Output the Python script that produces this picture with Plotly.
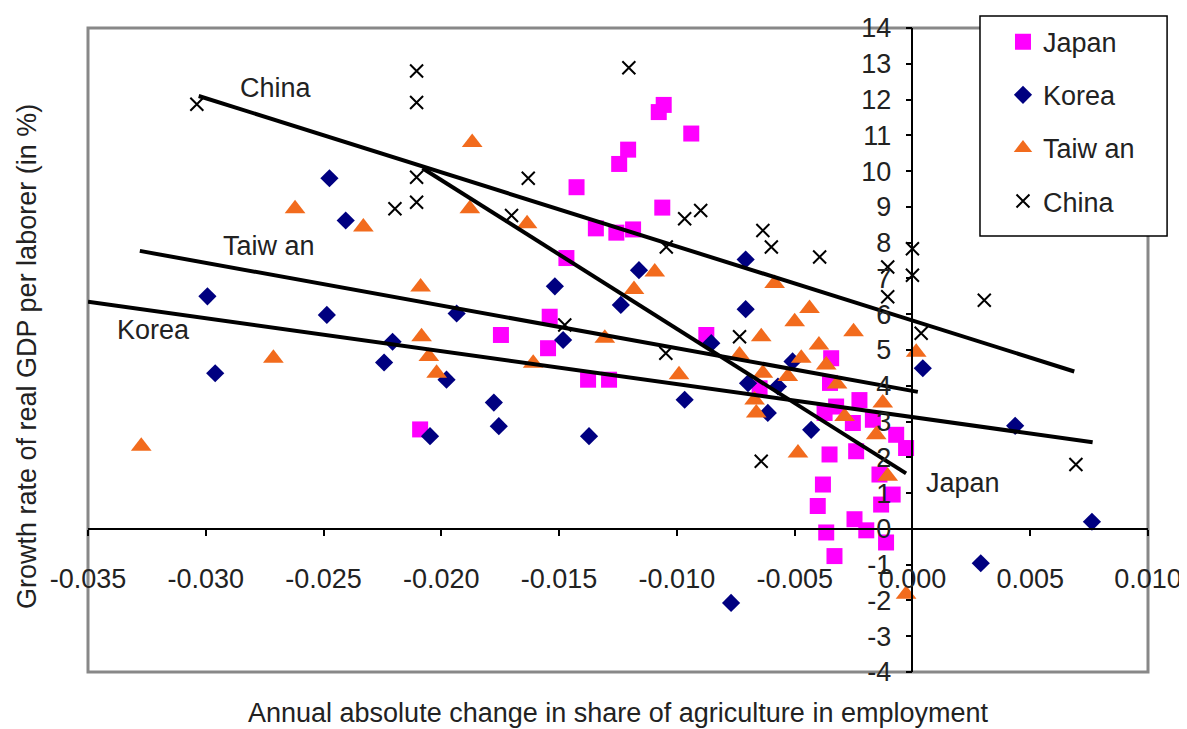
import plotly.graph_objects as go

# ---------------- data ----------------
japan_x = [-0.0209, -0.01056, -0.01077, -0.00939, -0.01207, -0.01245, -0.01426, -0.01062,
           -0.01344, -0.01257, -0.01186, -0.01469, -0.0154, -0.01747, -0.01547, -0.01377,
           -0.01288, -0.00875, -0.00649, -0.00345, -0.0035, -0.00225, -0.00324, -0.00253,
           -0.00373, -0.00168, -0.00069, -0.00027, -0.00352, -0.00239, -0.0014, -0.00084,
           -0.0038, -0.00402, -0.00133, -0.00246, -0.00196, -0.00366, -0.00112, -0.00331]
japan_y = [2.78, 11.85, 11.65, 11.05, 10.6, 10.2, 9.55, 8.98,
           8.4, 8.28, 8.37, 7.57, 5.93, 5.42, 5.05, 4.17,
           4.17, 5.42, 3.93, 4.77, 4.08, 3.6, 3.42, 2.96,
           3.24, 3.05, 2.63, 2.26, 2.08, 2.17, 1.52, 0.96,
           1.24, 0.64, 0.68, 0.27, -0.04, -0.1, -0.38, -0.76]

korea_x = [-0.02475, -0.02406, -0.02993, -0.02486, -0.02207, -0.02243, -0.01978, -0.0296,
           -0.02048, -0.00708, -0.01161, -0.01518, -0.01238, -0.01935, -0.01483, -0.01777,
           -0.01756, -0.01373, -0.00967, -0.00854, -0.00708, -0.00698, -0.00571, -0.00614,
           -0.00509, -0.0043, 0.00044, 0.00436, 0.00762, -0.0077, 0.0029]
korea_y = [9.8, 8.62, 6.5, 5.98, 5.23, 4.65, 4.17, 4.35,
           2.59, 7.53, 7.23, 6.78, 6.26, 6.02, 5.28, 3.53,
           2.87, 2.59, 3.61, 5.19, 6.14, 4.07, 3.98, 3.24,
           4.68, 2.77, 4.49, 2.88, 0.2, -2.07, -0.96]

taiwan_x = [-0.02621, -0.02331, -0.02088, -0.02084, -0.02053, -0.0202, -0.02713, -0.03274,
            -0.01869, -0.01879, -0.01636, -0.00585, -0.01094, -0.01182, -0.01306, -0.0161,
            -0.00991, -0.00642, -0.00734, -0.005, -0.00635, -0.00529, -0.00663, -0.0067,
            -0.00486, -0.00437, -0.0025, -0.00397, -0.00472, -0.00366, 0.00016, -0.00126,
            -0.00288, -0.00154, -0.00105, -0.0032, -0.00027]
taiwan_y = [8.95, 8.44, 6.76, 5.37, 4.82, 4.35, 4.77, 2.31,
            10.8, 8.95, 8.53, 6.86, 7.18, 6.69, 5.33, 4.63,
            4.31, 5.37, 4.86, 5.79, 4.35, 4.26, 3.24, 3.6,
            2.12, 6.16, 5.51, 5.14, 4.77, 4.58, 4.94, 3.52,
            3.14, 2.63, 1.47, 4.05, -1.83]

china_x = [-0.03038, -0.02105, -0.02105, -0.02105, -0.02197, -0.02105, -0.01204, -0.01631,
           -0.00899, -0.00967, -0.01702, -0.01045, -0.00635, -0.00599, -0.01476, -0.01047,
           -0.00734, -0.00642, -0.00394, 0.0, -0.00105, 0.0, -0.00105, 0.00305,
           0.00037, 0.00694]
china_y = [11.87, 12.8, 11.92, 9.83, 8.95, 9.13, 12.89, 9.8,
           8.9, 8.67, 8.76, 7.88, 8.34, 7.88, 5.7, 4.91,
           5.37, 1.89, 7.6, 7.83, 7.32, 7.09, 6.49, 6.39,
           5.47, 1.8]

# trend lines (end points, data units)
china_fit_x = [-0.0303, 0.00687]
china_fit_y = [12.1, 4.4]
japan_fit_x = [-0.0208, -0.00027]
japan_fit_y = [10.08, 1.55]
taiwan_fit_x = [-0.0328, 0.00023]
taiwan_fit_y = [7.77, 3.83]
korea_fit_x = [-0.035, 0.00765]
korea_fit_y = [6.35, 2.42]

# trend line labels
label_text = ["China", "Taiw an", "Korea", "Japan"]
label_x = [-0.027, -0.0273, -0.0322, 0.00215]
label_y = [12.33, 7.92, 5.55, 1.28]

# ticks
x_tickvals = [-0.035, -0.030, -0.025, -0.020, -0.015, -0.010, -0.005, 0.0, 0.005, 0.010]
x_ticktext = ["-0.035", "-0.030", "-0.025", "-0.020", "-0.015", "-0.010", "-0.005",
              "0.000", "0.005", "0.010"]
y_tickvals = list(range(-4, 15))
y_ticktext = [str(v) for v in y_tickvals]

x_range = [-0.035, 0.010]
y_range = [-4, 14]

# ---------------- figure ----------------
FONT = "Liberation Sans, Arial, sans-serif"
FS = 27
TXT = "#222222"

fig = go.Figure()

fig.add_trace(go.Scatter(
    x=japan_x, y=japan_y, mode="markers", name="Japan", legendgroup="jp",
    marker=dict(symbol="square", size=16, color="#FF00FF", line=dict(width=0))))
fig.add_trace(go.Scatter(
    x=korea_x, y=korea_y, mode="markers", name="Korea", legendgroup="kr",
    marker=dict(symbol="diamond", size=14, color="#000080", line=dict(width=0))))
fig.add_trace(go.Scatter(
    x=taiwan_x, y=taiwan_y, mode="markers", name="Taiw an", legendgroup="tw",
    marker=dict(symbol="triangle-up", size=18, color="#F26B1D", line=dict(width=0))))
fig.add_trace(go.Scatter(
    x=china_x, y=china_y, mode="markers", name="China", legendgroup="cn",
    marker=dict(symbol="x-thin", size=13, color="#000000",
                line=dict(width=2, color="#000000"))))

for fx, fy in [(china_fit_x, china_fit_y), (japan_fit_x, japan_fit_y),
               (taiwan_fit_x, taiwan_fit_y), (korea_fit_x, korea_fit_y)]:
    fig.add_trace(go.Scatter(x=fx, y=fy, mode="lines", showlegend=False,
                             hoverinfo="skip",
                             line=dict(color="#000000", width=4)))

for t, lx, ly in zip(label_text, label_x, label_y):
    fig.add_annotation(x=lx, y=ly, xref="x", yref="y", text=t, showarrow=False,
                       font=dict(family=FONT, size=FS, color=TXT),
                       xanchor="center", yanchor="middle")

# axis titles
fig.add_annotation(x=0.5, y=-0.064, xref="paper", yref="paper",
                   text="Annual absolute change in share of agriculture in employment",
                   showarrow=False, xanchor="center", yanchor="middle",
                   font=dict(family=FONT, size=FS, color=TXT))
fig.add_annotation(x=-0.057, y=0.49, xref="paper", yref="paper",
                   text="Growth rate of real GDP per laborer (in %)",
                   showarrow=False, textangle=-90, xanchor="center", yanchor="middle",
                   font=dict(family=FONT, size=FS, color=TXT))

# plot-area frame and legend box
fig.add_shape(type="rect", xref="paper", yref="paper", x0=0, x1=1, y0=0, y1=1,
              line=dict(color="#888888", width=3), fillcolor="rgba(0,0,0,0)",
              layer="below")
fig.add_shape(type="rect", xref="paper", yref="paper",
              x0=0.8415, x1=1.018, y0=0.677, y1=1.0186,
              line=dict(color="#000000", width=1.5), fillcolor="#FFFFFF",
              layer="above")

x_pos = (0 - y_range[0]) / (y_range[1] - y_range[0])
y_pos = (0 - x_range[0]) / (x_range[1] - x_range[0])

# the page body adds an 8px margin, so the figure is 8px smaller than the window
fig.update_layout(
    width=1179, height=721,
    margin=dict(l=80, r=39, t=20, b=57, autoexpand=False),
    paper_bgcolor="#FFFFFF", plot_bgcolor="#FFFFFF",
    font=dict(family=FONT, size=FS, color=TXT),
    showlegend=True,
    legend=dict(x=0.8632, y=1.016, xanchor="left", yanchor="top",
                bgcolor="rgba(0,0,0,0)", borderwidth=0,
                font=dict(family=FONT, size=FS, color=TXT),
                tracegroupgap=15, itemsizing="trace"),
    xaxis=dict(range=x_range, anchor="free", position=x_pos,
               showgrid=False, zeroline=False, showline=True,
               linecolor="#000000", linewidth=1.5,
               ticks="outside", ticklen=6, tickwidth=1.5, tickcolor="#000000",
               tickvals=x_tickvals, ticktext=x_ticktext, ticklabelstandoff=20,
               tickfont=dict(family=FONT, size=FS, color=TXT)),
    yaxis=dict(range=y_range, anchor="free", position=y_pos,
               showgrid=False, zeroline=False, showline=True,
               linecolor="#000000", linewidth=1.5,
               ticks="outside", ticklen=6, tickwidth=1.5, tickcolor="#000000",
               tickvals=y_tickvals, ticktext=y_ticktext, ticklabelstandoff=9,
               tickfont=dict(family=FONT, size=FS, color=TXT)),
)

fig.write_html("out.html")
